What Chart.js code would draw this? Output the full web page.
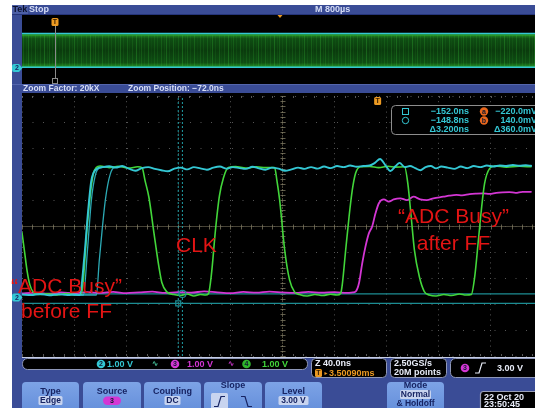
<!DOCTYPE html>
<html>
<head>
<meta charset="utf-8">
<script src="https://cdn.jsdelivr.net/npm/chart.js@4/dist/chart.umd.min.js"></script>
<style>
  html, body { margin: 0; padding: 0; width: 535px; height: 408px; overflow: hidden; background: #fff; }
  #wrap { position: relative; width: 535px; height: 408px; overflow: hidden; }
  #main { position: absolute; left: 0; top: 0; }
  #over { position: absolute; left: 22px; top: 15px; }
</style>
</head>
<body>
<div id="wrap">
  <canvas id="main" width="548" height="408"></canvas>
  <canvas id="over" width="526" height="69"></canvas>
</div>
<script>
// ---------- zoom window: 40 ns/div, 1 V/div ----------
const timeRange = [-272, 128];          // ns (10 divisions)
const voltRange = [-2.246, 7.754];      // V  (10 divisions)
const voltsPerDiv = [1.00, 1.00, 1.00]; // ch2, ch3, ch4

// ch4 - CLK
const clkTime = [-272,-270,-268,-266,-263.5,-259,-252,-245,-238,-231,-226.5,-225,-222,-219,-217,-215,-212,-205,-198,-190,
  -183,-179.8,-177.5,-174.5,-170.7,-166.9,-164.6,-160.8,-155.4,-150,-145,-140,-135,-131,-128.8,-126.5,-123.4,-120.4,-117.3,-113.5,
  -108,-100,-92,-85,-78,-76.2,-74.1,-70.3,-66.5,-62.7,-58.9,-53,-47,-41,-35,-30,-27.2,-25.9,-23.4,-20.8,
  -18.3,-15.8,-12,-5,2,9,15,21.8,24.3,26.9,29.4,33.2,37,40.8,46,52,58,64,69,73.1,
  75.7,78.3,80.8,83.3,87.2,91,100,110,119];
const clkVolt = [2.5,1.75,1.0,0.5,0.22,0.12,0.15,0.10,0.16,0.11,0.12,0.6,2.7,4.2,4.8,5.0,5.06,5.0,5.05,4.98,
  5.03,5.0,4.5,3.85,2.5,1.2,0.58,0.22,0.12,0.08,0.14,0.06,0.12,0.1,0.15,0.9,2.6,3.9,4.6,5.0,
  5.04,4.98,5.03,5.0,5.0,4.5,3.75,1.85,0.68,0.22,0.12,0.06,0.12,0.08,0.13,0.1,0.17,0.55,1.83,3.11,
  4.14,4.78,5.03,5.04,5.0,5.05,5.02,5.03,4.4,3.11,1.83,0.8,0.23,0.1,0.06,0.12,0.08,0.14,0.1,0.12,
  0.8,2.09,3.37,4.39,4.97,5.06,5.02,5.05,5.03];

// ch2 - "ADC Busy" before FF (main acquisition + two jittered edges)
const busyTime = [-272,-265,-258,-251,-244,-237,-231,-227.8,-224,-221.5,-218.9,-217.1,-213.9,
  -210,-205,-200,-195,-190,-185,-180,-175,-170,-165,
  -160,-155,-150,-145,-140,-135,-130,-125,-120,-115,
  -110,-105,-100,-95,-90,-85,-80,-75,-70,-65,
  -60,-55,-50,-45,-40,-35,-30,-25,-20,-15,
  -10,-5,
  -1,3,7,11,15,18,22,26,30,34,38,42,46,50,
  55,60,65,70,75,80,85,90,95,100,105,110,115,119];
const busyVolt = [0.12,0.10,0.14,0.09,0.13,0.10,0.12,0.10,1.64,3.18,4.46,4.80,4.97,
  5.02,5.05,5.00,5.06,4.96,4.88,4.98,5.02,4.95,4.90,
  4.86,4.96,5.00,4.93,5.02,4.97,4.92,5.00,5.04,4.96,
  5.02,4.98,4.95,5.03,4.97,4.92,5.00,4.96,4.88,4.93,
  5.00,4.95,5.02,4.96,5.04,4.98,5.06,5.02,5.08,5.03,
  5.06,5.08,
  5.18,5.33,5.10,4.87,5.06,5.18,5.02,5.06,4.98,4.90,5.02,5.06,4.97,5.04,
  5.00,4.95,5.04,4.98,5.06,5.02,5.08,5.04,5.08,5.06,5.10,5.07,5.09,5.07];
const busyEdgeBTime = [-240,-224.8,-221.7,-218.7,-215.6,-212.6,-205];
const busyEdgeBVolt = [0.12,0.10,1.83,3.75,4.72,4.98,5.03];
const busyEdgeCTime = [-232,-214.9,-212.6,-210.3,-208,-206.2,-204.2,-201.9,-195];
const busyEdgeCVolt = [0.10,0.10,1.45,2.68,3.75,4.33,4.75,4.98,5.04];

// ch3 - "ADC Busy" after FF
const ffTime = [-272,-262,-252,-242,-232,-222,-212,-202,-192,-182,-172,-162,-152,-142,-132,-122,-112,-102,-92,-82,
  -72,-62,-52,-42,-32,-22,-18,-15.8,-13.2,-10.7,-8.2,-5.6,-3.1,-0.5,2.1,5.9,9.7,13.5,18.5,23.6,
  28.7,33.8,38.9,44,51.6,56,61.7,66,71.8,77,82.1,87,92.2,97,102.3,107,112.5,118.9];
const ffVolt = [0.16,0.19,0.15,0.20,0.17,0.21,0.18,0.22,0.17,0.20,0.23,0.18,0.21,0.19,0.24,0.20,0.17,0.22,0.19,0.23,
  0.20,0.18,0.22,0.19,0.21,0.18,0.20,0.23,0.55,1.32,1.96,2.47,2.73,3.24,3.63,3.78,3.69,3.78,3.82,3.75,
  3.88,3.78,3.75,3.82,3.88,3.92,3.95,3.93,3.98,4.00,4.01,3.99,4.03,4.05,4.06,4.03,4.07,4.07];

// cursors: vertical (square, circle) and horizontal (a, b)
const cursorTimes = [-152.0, -148.8];   // ns
const cursorVolts = [-0.22, 0.14];      // V

// ---------- overview record: 800 us/div ----------
const overviewTime = [-502, 7498];      // us
const overviewRange = [-2.32, 7.68];    // V
const overviewBusyHigh = [5.0, 5.0];
const overviewBusyLow = [0.1, 0.1];
const overviewClkHigh = [4.8, 4.8];
const overviewClkLow = [0.22, 0.22];

// ---------- trigger / acquisition settings ----------
const overviewPerDiv = 800000;          // ns
const trigLevel = 3.00;
const sampleInfo = ['2.50GS/s', '20M points'];
const trigPosition = '3.50090ms';
const stamp = ['22 Oct 20', '23:50:45'];

// ---------- style ----------
const PANEL = '#3a4c96', CYAN = '#34c7d4', GREEN = '#42d63a', MAGENTA = '#d436d4';
const TEAL = '#1c8d93', ORANGE = '#ec9a22', RED = '#e31414', NAVY = '#172463';
const BTN = '#6791dc', PALE = '#c8d4ef';
const UI = '"Liberation Sans", Arial, sans-serif';
// persistence streak offsets inside one repeat of the overview band texture (px) and their strength
const streakX = [1, 4, 6, 9, 13, 15, 18, 22, 25, 27, 30, 34, 37, 40, 43];
const streakA = [0.18, 0.08, 0.25, 0.1, 0.2, 0.05, 0.15, 0.28, 0.08, 0.18, 0.1, 0.22, 0.05, 0.15, 0.12];

const pts = (ts, vs) => ts.map((t, i) => ({ x: t, y: vs[i] }));
const fmtNs = v => (v < 0 ? '\u2212' : '') + Math.abs(v).toFixed(1) + 'ns';
const fmtMv = v => (v < 0 ? '\u2212' : '') + Math.abs(v * 1000).toFixed(1) + 'mV';

function rr(c, x, y, w, h, r) {
  c.beginPath();
  c.moveTo(x + r, y);
  c.arcTo(x + w, y, x + w, y + h, r);
  c.arcTo(x + w, y + h, x, y + h, r);
  c.arcTo(x, y + h, x, y, r);
  c.arcTo(x, y, x + w, y, r);
  c.closePath();
}
function txt(c, s, x, y, font, color, align) {
  c.font = font; c.fillStyle = color; c.textAlign = align || 'left'; c.textBaseline = 'middle';
  c.fillText(s, x, y);
}
function badge(c, x, y, r, fill, label) {
  c.beginPath(); c.arc(x, y, r, 0, Math.PI * 2); c.fillStyle = fill; c.fill();
  txt(c, label, x, y + 0.5, 'bold 7px ' + UI, '#101830', 'center');
}
function trigTab(c, x, y) {
  rr(c, x - 3.5, y, 7, 8, 1.5); c.fillStyle = ORANGE; c.fill();
  txt(c, 'T', x, y + 4.3, 'bold 7px ' + UI, '#3a2000', 'center');
}
function chanTab(c, y, label, color) {
  c.beginPath();
  c.moveTo(14, y - 4); c.lineTo(19, y - 4); c.lineTo(22.5, y); c.lineTo(19, y + 4); c.lineTo(14, y + 4);
  c.arcTo(12, y + 4, 12, y, 2); c.arcTo(12, y - 4, 14, y - 4, 2); c.closePath();
  c.fillStyle = color; c.fill();
  txt(c, label, 17, y + 0.5, 'bold 7px ' + UI, NAVY, 'center');
}
function button(c, x, w, title, titleY) {
  rr(c, x, 382, w, 34, 4);
  const g = c.createLinearGradient(0, 382, 0, 408);
  g.addColorStop(0, '#7da3e6'); g.addColorStop(1, BTN);
  c.fillStyle = g; c.fill();
  txt(c, title, x + w / 2, titleY, 'bold 9px ' + UI, NAVY, 'center');
}
function paleValue(c, cx, cy, s, w) {
  rr(c, cx - w / 2, cy - 4.5, w, 9, 1.5); c.fillStyle = PALE; c.fill();
  txt(c, s, cx, cy + 0.3, 'bold 8.5px ' + UI, NAVY, 'center');
}
function risingIcon(c, x, y, color) {
  c.beginPath(); c.moveTo(x, y + 5); c.lineTo(x + 4, y + 5); c.lineTo(x + 7, y - 5); c.lineTo(x + 11, y - 5);
  c.strokeStyle = color; c.lineWidth = 1.2; c.stroke();
}
function fallingIcon(c, x, y, color) {
  c.beginPath(); c.moveTo(x, y - 5); c.lineTo(x + 4, y - 5); c.lineTo(x + 7, y + 5); c.lineTo(x + 11, y + 5);
  c.strokeStyle = color; c.lineWidth = 1.2; c.stroke();
}

// ---------- overview chart ----------
let bandPattern = null;
const bandFill = (ctx) => {
  const chart = ctx.chart, area = chart.chartArea;
  if (!area) return 'rgba(0,0,0,0)';
  if (bandPattern) return bandPattern;
  const ys = chart.scales.y;
  const y0 = ys.getPixelForValue(overviewClkHigh[0]), y1 = ys.getPixelForValue(overviewClkLow[0]);
  const tile = document.createElement('canvas');
  tile.width = 46; tile.height = chart.height;
  const t = tile.getContext('2d');
  const g = t.createLinearGradient(0, y0, 0, y1);
  g.addColorStop(0, '#238a24'); g.addColorStop(0.12, '#0f4e13'); g.addColorStop(0.5, '#0a3b0d');
  g.addColorStop(0.88, '#0f4e13'); g.addColorStop(1, '#238a24');
  t.fillStyle = g; t.fillRect(0, 0, tile.width, tile.height);
  streakX.forEach((x, i) => {
    t.fillStyle = 'rgba(60,200,60,' + streakA[i] + ')';
    t.fillRect(x, y0, 1, y1 - y0);
  });
  bandPattern = chart.ctx.createPattern(tile, 'repeat-x');
  return bandPattern;
};
const overviewMarks = {
  id: 'overviewMarks',
  afterDraw(chart) {
    const c = chart.ctx, x = chart.scales.x.getPixelForValue(0);
    c.save();
    c.strokeStyle = '#8a8a8a'; c.lineWidth = 1;
    c.beginPath(); c.moveTo(Math.round(x) + 0.5, 11); c.lineTo(Math.round(x) + 0.5, 63); c.stroke();
    c.strokeRect(Math.round(x) - 2.5, 63.5, 5, 5);
    trigTab(c, x, 3);
    c.restore();
  }
};
const overviewChart = new Chart(document.getElementById('over'), {
  type: 'line',
  data: { datasets: [
    { data: pts(overviewTime, overviewBusyHigh), borderColor: CYAN, borderWidth: 1.6, order: 0 },
    { data: pts(overviewTime, overviewBusyLow), borderColor: CYAN, borderWidth: 1.6, order: 0 },
    { data: pts(overviewTime, overviewClkHigh), borderColor: '#2ea82b', borderWidth: 1.2, fill: '+1', backgroundColor: bandFill, order: 1 },
    { data: pts(overviewTime, overviewClkLow), borderColor: '#2ea82b', borderWidth: 1.2, order: 1 }
  ] },
  options: {
    responsive: false, animation: false, devicePixelRatio: 1, events: [],
    layout: { padding: 0 },
    plugins: { legend: { display: false }, tooltip: { enabled: false } },
    elements: { point: { radius: 0 } },
    scales: {
      x: { type: 'linear', display: false, min: overviewTime[0], max: overviewTime[1] },
      y: { type: 'linear', display: false, min: overviewRange[0], max: overviewRange[1] }
    }
  },
  plugins: [overviewMarks]
});

// ---------- zoom window chart ----------
const scopeFrame = {
  id: 'scopeFrame',
  beforeDraw(chart) {
    const c = chart.ctx, W = chart.width, H = chart.height;
    const center = (timeRange[0] + timeRange[1]) / 2;
    const zoomDiv = (timeRange[1] - timeRange[0]) / 10;
    c.save();
    c.fillStyle = '#fff'; c.fillRect(0, 0, W, H);
    c.fillStyle = PANEL; c.fillRect(12, 5, W - 12, H - 5);
    c.fillStyle = '#000'; c.fillRect(22, 15, W - 22, 69); c.fillRect(22, 93, W - 22, 264);
    // status bar
    c.fillStyle = '#26357a'; c.fillRect(12, 14, W - 12, 1);
    c.fillStyle = '#4d5fa6'; c.fillRect(12, 5, 16, 9);
    txt(c, 'Tek', 12.5, 10, 'bold 9px ' + UI, '#0b112e');
    txt(c, 'Stop', 29, 10, 'bold 9px ' + UI, '#d6ddf5');
    txt(c, 'M 800\u00b5s', 315, 10, 'bold 9px ' + UI, '#d6ddf5');
    c.beginPath(); c.moveTo(277.5, 15); c.lineTo(282.5, 15); c.lineTo(280, 18); c.closePath();
    c.fillStyle = ORANGE; c.fill();
    // zoom bar
    c.fillStyle = '#5466ad'; c.fillRect(12, 84, W - 12, 1);
    txt(c, 'Zoom Factor: ' + (overviewPerDiv / zoomDiv / 1000) + 'kX', 23, 89, 'bold 8.5px ' + UI, '#d6ddf5');
    txt(c, 'Zoom Position: ' + fmtNs(center), 128, 89, 'bold 8.5px ' + UI, '#d6ddf5');
    c.restore();
  },
  beforeDatasetsDraw(chart) {
    const c = chart.ctx, a = chart.chartArea, xs = chart.scales.x, ys = chart.scales.y;
    const cx = Math.round(xs.getPixelForValue((timeRange[0] + timeRange[1]) / 2)) + 0.5;
    const cy = Math.round(ys.getPixelForValue((voltRange[0] + voltRange[1]) / 2)) + 0.5;
    const dx = (a.right - a.left) / 50, dy = (a.bottom - a.top) / 50;
    c.save();
    c.strokeStyle = 'rgba(125,118,92,0.6)'; c.lineWidth = 1;
    c.setLineDash([2, 1]);
    c.beginPath(); c.moveTo(cx, a.top); c.lineTo(cx, a.bottom); c.stroke();
    c.setLineDash([]);
    c.strokeStyle = 'rgba(95,90,72,0.75)';
    c.beginPath(); c.moveTo(a.left, cy); c.lineTo(a.right, cy); c.stroke();
    c.strokeStyle = 'rgba(130,124,100,0.75)';
    c.beginPath();
    for (let i = 0; i <= 50; i++) {
      const x = Math.round(a.left + i * dx) + 0.5, y = Math.round(a.top + i * dy) + 0.5;
      c.moveTo(x, cy - 2); c.lineTo(x, cy + 3);
      c.moveTo(cx - 2, y); c.lineTo(cx + 3, y);
    }
    c.stroke();
    c.strokeStyle = 'rgba(110,110,110,0.8)';
    c.beginPath();
    for (let i = 0; i <= 50; i++) {
      const x = Math.round(a.left + i * dx) + 0.5;
      c.moveTo(x, a.top); c.lineTo(x, a.top + 2);
      c.moveTo(x, a.bottom - 2); c.lineTo(x, a.bottom);
    }
    c.stroke();
    c.restore();
  },
  afterDraw(chart) {
    const c = chart.ctx, xs = chart.scales.x, ys = chart.scales.y;
    c.save();
    // separator to the control panel
    c.fillStyle = '#c5cde6'; c.fillRect(22, 357, chart.width - 22, 1);

    // trigger point and ground markers
    trigTab(c, xs.getPixelForValue(0) + 1.5, 97);
    chanTab(c, ys.getPixelForValue(0), '2', CYAN);
    chanTab(c, 15 + overviewChart.scales.y.getPixelForValue(0), '2', CYAN);

    // cursor readout
    rr(c, 391.5, 105.5, 170, 29, 4);
    c.fillStyle = '#000'; c.fill(); c.strokeStyle = '#8d8d8d'; c.lineWidth = 1; c.stroke();
    const f = 'bold 9px ' + UI, rows = [111.5, 120.5, 129.5];
    c.strokeStyle = CYAN; c.lineWidth = 1;
    c.strokeRect(402.5, rows[0] - 3, 6, 6);
    c.beginPath(); c.arc(405.5, rows[1], 3.2, 0, Math.PI * 2); c.stroke();
    txt(c, fmtNs(cursorTimes[0]), 469, rows[0], f, CYAN, 'right');
    txt(c, fmtNs(cursorTimes[1]), 469, rows[1], f, CYAN, 'right');
    txt(c, '\u0394' + (cursorTimes[1] - cursorTimes[0]).toFixed(3) + 'ns', 469, rows[2], f, CYAN, 'right');
    badge(c, 484, rows[0], 4.2, '#e8661c', 'a');
    badge(c, 484, rows[1], 4.2, '#e8661c', 'b');
    txt(c, fmtMv(cursorVolts[0]), 537, rows[0], f, CYAN, 'right');
    txt(c, fmtMv(cursorVolts[1]), 537, rows[1], f, CYAN, 'right');
    txt(c, '\u0394' + fmtMv(cursorVolts[1] - cursorVolts[0]), 537, rows[2], f, CYAN, 'right');

    // annotations
    c.font = '21px ' + UI; c.fillStyle = RED; c.textBaseline = 'alphabetic';
    c.textAlign = 'left'; c.fillText('CLK', 176, 252);
    c.textAlign = 'center';
    c.fillText('\u201cADC Busy\u201d', 453.5, 223);
    c.fillText('after FF', 453.5, 249.5);
    c.fillText('\u201cADC Busy\u201d', 66.5, 292.5);
    c.fillText('before FF', 66.5, 318);

    // ---- control panel ----
    // channel scales
    rr(c, 22.5, 358.5, 285, 11, 5); c.fillStyle = '#000'; c.fill(); c.strokeStyle = '#8e97b8'; c.stroke();
    const sf = 'bold 9px ' + UI;
    const fmtV = v => v.toFixed(2) + ' V';
    badge(c, 101, 364, 4.3, CYAN, '2');    txt(c, fmtV(voltsPerDiv[0]), 107, 364.5, sf, CYAN);
    txt(c, '\u223f', 155, 364, 'bold 8px "DejaVu Sans"', '#49c9a0', 'center');
    badge(c, 175, 364, 4.3, MAGENTA, '3'); txt(c, fmtV(voltsPerDiv[1]), 187, 364.5, sf, MAGENTA);
    txt(c, '\u223f', 231, 364, 'bold 8px "DejaVu Sans"', MAGENTA, 'center');
    badge(c, 246.5, 364, 4.3, '#2fb52c', '4'); txt(c, fmtV(voltsPerDiv[2]), 262, 364.5, sf, GREEN);

    // horizontal scale / trigger position
    rr(c, 311.5, 358.5, 75, 19, 4); c.fillStyle = '#000'; c.fill(); c.stroke();
    txt(c, 'Z ' + ((timeRange[1] - timeRange[0]) / 10).toFixed(1) + 'ns', 315, 364, sf, '#e8ecf8');
    trigTab(c, 318.5, 369);
    txt(c, '\u25b8', 324.5, 373, 'bold 6px "DejaVu Sans"', ORANGE);
    txt(c, trigPosition, 329, 373.5, sf, ORANGE);

    // acquisition
    rr(c, 390.5, 358.5, 56, 19, 4); c.fillStyle = '#000'; c.fill(); c.stroke();
    txt(c, sampleInfo[0], 394, 364, sf, '#e8ecf8');
    txt(c, sampleInfo[1], 394, 373, sf, '#e8ecf8');

    // trigger readout
    rr(c, 450.5, 358.5, 110, 19, 5); c.fillStyle = '#000'; c.fill(); c.stroke();
    badge(c, 465, 368, 4.3, MAGENTA, '3');
    risingIcon(c, 475, 368, '#e8ecf8');
    txt(c, trigLevel.toFixed(2) + ' V', 497, 368.5, sf, '#e8ecf8');

    // soft-key buttons
    button(c, 22, 57, 'Type', 391.5);    paleValue(c, 50.5, 400.5, 'Edge', 24);
    button(c, 83, 58, 'Source', 391.5);
    rr(c, 103, 396.5, 18, 8.5, 4.2); c.fillStyle = MAGENTA; c.fill();
    txt(c, '3', 112, 401, 'bold 7px ' + UI, '#101830', 'center');
    button(c, 144, 57, 'Coupling', 391.5); paleValue(c, 172.5, 400.5, 'DC', 16);
    button(c, 204, 58, 'Slope', 386);
    rr(c, 211, 393, 17, 17, 1.5); c.fillStyle = PALE; c.fill();
    risingIcon(c, 214, 401.5, NAVY);
    fallingIcon(c, 241, 401.5, NAVY);
    button(c, 265, 57, 'Level', 391.5);  paleValue(c, 293.5, 400.5, trigLevel.toFixed(2) + ' V', 30);
    button(c, 387, 57, 'Mode', 386);
    paleValue(c, 415.5, 394.5, 'Normal', 31);
    txt(c, '& Holdoff', 415.5, 403.5, 'bold 8.5px ' + UI, NAVY, 'center');

    // date / time
    rr(c, 480.5, 391.5, 80, 20, 3); c.fillStyle = '#000'; c.fill(); c.strokeStyle = '#9aa0b8'; c.stroke();
    txt(c, stamp[0], 484, 397.5, sf, '#e8ecf8');
    txt(c, stamp[1], 484, 405, sf, '#e8ecf8');
    c.restore();
  }
};

const sig = { pointRadius: 0, cubicInterpolationMode: 'monotone', borderJoinStyle: 'round', borderCapStyle: 'round' };
new Chart(document.getElementById('main'), {
  type: 'line',
  data: { datasets: [
    { label: 'marker square', data: [{ x: cursorTimes[0], y: cursorVolts[0] }], showLine: false,
      pointStyle: 'rect', pointRadius: 3.5, pointBorderColor: TEAL, pointBorderWidth: 1.2, pointBackgroundColor: 'rgba(0,0,0,0)', order: 0 },
    { label: 'marker circle', data: [{ x: cursorTimes[1], y: cursorVolts[1] }], showLine: false,
      pointStyle: 'circle', pointRadius: 3.5, pointBorderColor: TEAL, pointBorderWidth: 1.2, pointBackgroundColor: 'rgba(0,0,0,0)', order: 0 },
    Object.assign({ label: 'ADC Busy before FF', data: pts(busyTime, busyVolt), borderColor: CYAN, borderWidth: 1.9, order: 1 }, sig),
    Object.assign({ label: 'ADC Busy before FF (b)', data: pts(busyEdgeBTime, busyEdgeBVolt), borderColor: 'rgba(52,199,212,0.85)', borderWidth: 1.3, order: 2 }, sig),
    Object.assign({ label: 'ADC Busy before FF (c)', data: pts(busyEdgeCTime, busyEdgeCVolt), borderColor: 'rgba(52,199,212,0.85)', borderWidth: 1.3, order: 2 }, sig),
    Object.assign({ label: 'CLK', data: pts(clkTime, clkVolt), borderColor: GREEN, borderWidth: 1.6, order: 3 }, sig),
    Object.assign({ label: 'ADC Busy after FF', data: pts(ffTime, ffVolt), borderColor: MAGENTA, borderWidth: 1.8, order: 4 }, sig),
    { label: 'cursor a', data: [{ x: timeRange[0], y: cursorVolts[0] }, { x: timeRange[1], y: cursorVolts[0] }], borderColor: TEAL, borderWidth: 1.3, pointRadius: 0, order: 6 },
    { label: 'cursor b', data: [{ x: timeRange[0], y: cursorVolts[1] }, { x: timeRange[1], y: cursorVolts[1] }], borderColor: TEAL, borderWidth: 1.3, pointRadius: 0, order: 6 },
    { label: 'cursor square', data: [{ x: cursorTimes[0], y: voltRange[0] }, { x: cursorTimes[0], y: voltRange[1] }], borderColor: '#1f9ea5', borderWidth: 1, borderDash: [2, 2], pointRadius: 0, order: 7 },
    { label: 'cursor circle', data: [{ x: cursorTimes[1], y: voltRange[0] }, { x: cursorTimes[1], y: voltRange[1] }], borderColor: '#1f9ea5', borderWidth: 1, borderDash: [2, 2], pointRadius: 0, order: 7 }
  ] },
  options: {
    responsive: false, animation: false, devicePixelRatio: 1, events: [],
    layout: { padding: { left: 22, right: 0, top: 96, bottom: 52 } },
    plugins: { legend: { display: false }, tooltip: { enabled: false } },
    scales: {
      x: { type: 'linear', min: timeRange[0], max: timeRange[1],
        ticks: { display: false, stepSize: (timeRange[1] - timeRange[0]) / 10 },
        grid: { color: '#555555', lineWidth: 1, drawTicks: false },
        border: { display: false, dash: [1, 4.2] } },
      y: { type: 'linear', min: voltRange[0], max: voltRange[1],
        ticks: { display: false, stepSize: 1 },
        grid: { color: '#555555', lineWidth: 1, drawTicks: false },
        border: { display: false, dash: [1, 9.5] } }
    }
  },
  plugins: [scopeFrame]
});
</script>
</body>
</html>
